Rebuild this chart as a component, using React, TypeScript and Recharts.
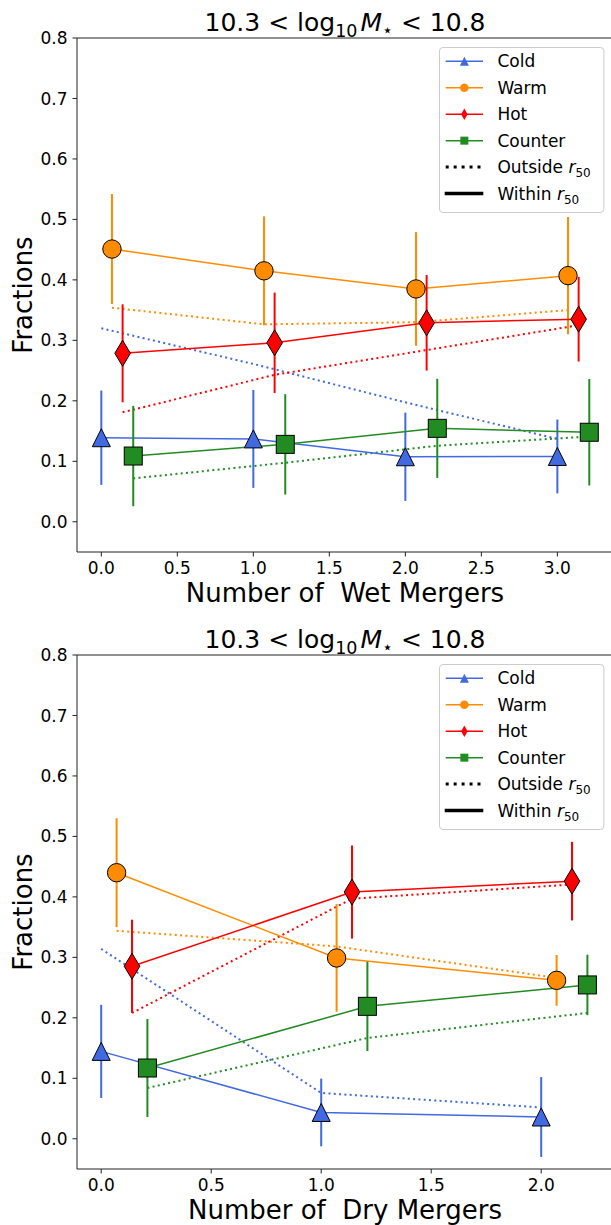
import React from 'react';
import { ComposedChart, Line, XAxis, YAxis, ErrorBar, ReferenceLine, Legend } from 'recharts';

const FONT = '"DejaVu Sans", "Liberation Sans", sans-serif';

// ---- categories / styling keys ----
const seriesNames = ['Cold', 'Warm', 'Hot', 'Counter'];
const seriesColors = ['#4169E1', '#FF8C00', '#FF0000', '#228B22'];
const seriesShapes = ['triangle', 'circle', 'diamond', 'square'];
const seriesOffsets = [0, 0.07, 0.14, 0.21];

// ---- tick values ----
const yTicks = [0, 0.1, 0.2, 0.3, 0.4, 0.5, 0.6, 0.7, 0.8];
const wetTicks = [0, 0.5, 1, 1.5, 2, 2.5, 3];
const dryTicks = [0, 0.5, 1, 1.5, 2];

// ---- top panel: wet mergers ----
const wetX = [0, 1, 2, 3];
const wetColdIn = [0.139, 0.137, 0.1075, 0.108];
const wetColdErr = [0.078, 0.081, 0.073, 0.061];
const wetColdOut = [0.32, 0.261, 0.1975, 0.137];
const wetWarmIn = [0.451, 0.415, 0.385, 0.407];
const wetWarmErr = [0.091, 0.09, 0.094, 0.097];
const wetWarmOut = [0.354, 0.3265, 0.33, 0.35];
const wetHotIn = [0.2786, 0.296, 0.329, 0.335];
const wetHotErr = [0.081, 0.083, 0.079, 0.07];
const wetHotOut = [0.181, 0.243, 0.284, 0.325];
const wetCounterIn = [0.1087, 0.128, 0.1545, 0.148];
const wetCounterErr = [0.083, 0.083, 0.082, 0.088];
const wetCounterOut = [0.0717, 0.0976, 0.1257, 0.141];

// ---- bottom panel: dry mergers ----
const dryX = [0, 1, 2];
const dryColdIn = [0.1445, 0.0435, 0.036];
const dryColdErr = [0.077, 0.056, 0.066];
const dryColdOut = [0.314, 0.0757, 0.0518];
const dryWarmIn = [0.44, 0.299, 0.262];
const dryWarmErr = [0.09, 0.089, 0.042];
const dryWarmOut = [0.344, 0.318, 0.266];
const dryHotIn = [0.2853, 0.408, 0.426];
const dryHotErr = [0.077, 0.077, 0.065];
const dryHotOut = [0.208, 0.397, 0.4205];
const dryCounterIn = [0.117, 0.219, 0.2544];
const dryCounterErr = [0.081, 0.074, 0.05];
const dryCounterOut = [0.084, 0.1667, 0.208];

function markerEl(kind: string, cx: number, cy: number, color: string, big: boolean, key?: string) {
  const edge = big ? '#000' : color;
  const sw = big ? 1 : 0;
  if (kind === 'triangle') {
    const s = big ? 18 : 9;
    return <polygon key={key} points={`${cx},${cy - s / 2} ${cx - s / 2},${cy + s / 2} ${cx + s / 2},${cy + s / 2}`} fill={color} stroke={edge} strokeWidth={sw} />;
  }
  if (kind === 'circle') {
    const r = big ? 9.2 : 4.3;
    return <circle key={key} cx={cx} cy={cy} r={r} fill={color} stroke={edge} strokeWidth={sw} />;
  }
  if (kind === 'diamond') {
    const h = big ? 26 : 11.5;
    const w = big ? 15.6 : 6.5;
    return <polygon key={key} points={`${cx},${cy - h / 2} ${cx + w / 2},${cy} ${cx},${cy + h / 2} ${cx - w / 2},${cy}`} fill={color} stroke={edge} strokeWidth={sw} />;
  }
  const s = big ? 18 : 8;
  return <rect key={key} x={cx - s / 2} y={cy - s / 2} width={s} height={s} fill={color} stroke={edge} strokeWidth={sw} />;
}

function makeDot(kind: string, color: string) {
  return (p: any) => {
    const { cx, cy, index } = p;
    if (cx == null || cy == null) return <g key={`e-${index}`} />;
    return markerEl(kind, cx, cy, color, true, `m-${kind}-${index}`);
  };
}

function LegendContent() {
  const top = 14.3;
  const step = 26.45;
  return (
    <svg width={166} height={167} style={{ display: 'block', overflow: 'visible' }}>
      <rect x={0.5} y={0.5} width={164.4} height={165} rx={3.5} fill="#fff" fillOpacity={0.8} stroke="#cccccc" strokeWidth={1} />
      {seriesNames.map((n, i) => {
        const cy = top + i * step;
        return (
          <g key={n}>
            <line x1={6.7} x2={44} y1={cy} y2={cy} stroke={seriesColors[i]} strokeWidth={1.5} />
            {markerEl(seriesShapes[i], 25.35, cy, seriesColors[i], false)}
            <text x={58.4} y={cy + 6.1} fontSize={17} fontFamily={FONT} fill="#000">{n}</text>
          </g>
        );
      })}
      <line x1={6.7} x2={44} y1={top + 4 * step} y2={top + 4 * step} stroke="#000" strokeWidth={3} strokeDasharray="3 4.95" />
      <text x={58.4} y={top + 4 * step + 6.1} fontSize={17} fontFamily={FONT} fill="#000">
        Outside <tspan fontStyle="italic">r</tspan><tspan fontSize={12} dy={4}>50</tspan>
      </text>
      <line x1={5.7} x2={44.3} y1={top + 5 * step} y2={top + 5 * step} stroke="#000" strokeWidth={3.5} />
      <text x={58.4} y={top + 5 * step + 6.1} fontSize={17} fontFamily={FONT} fill="#000">
        Within <tspan fontStyle="italic">r</tspan><tspan fontSize={12} dy={4}>50</tspan>
      </text>
    </svg>
  );
}

type PanelProps = {
  xs: number[];
  ticks: number[];
  domain: [number, number];
  inVals: number[][];
  inErr: number[][];
  outVals: number[][];
};

function Panel({ xs, ticks, domain, inVals, inErr, outVals }: PanelProps) {
  const tickStyle = { fontSize: 17, fill: '#000', fontFamily: FONT };
  return (
    <ComposedChart width={640} height={620} margin={{ top: 38, right: 27, bottom: 38, left: 17 }}>
      <XAxis
        type="number"
        dataKey="x"
        domain={domain}
        allowDataOverflow
        ticks={ticks}
        interval={0}
        tickFormatter={(v: number) => v.toFixed(1)}
        tickSize={4.5}
        tickMargin={5}
        height={30}
        stroke="#222"
        tick={tickStyle}
      />
      <YAxis
        type="number"
        dataKey="y"
        domain={[-0.05, 0.8]}
        allowDataOverflow
        ticks={yTicks}
        interval={0}
        tickFormatter={(v: number) => v.toFixed(1)}
        tickSize={4.5}
        tickMargin={5}
        width={60}
        stroke="#222"
        tick={tickStyle}
      />
      <ReferenceLine y={0.8} stroke="#222" strokeWidth={1} ifOverflow="visible" />
      {seriesNames.map((n, i) => (
        <Line
          key={`out-${n}`}
          data={xs.map((x, j) => ({ x: x + seriesOffsets[i], y: outVals[i][j] }))}
          dataKey="y"
          stroke={seriesColors[i]}
          strokeWidth={2}
          strokeDasharray="2 3.3"
          dot={false}
          activeDot={false}
          isAnimationActive={false}
          legendType="none"
        />
      ))}
      {seriesNames.map((n, i) => (
        <Line
          key={`in-${n}`}
          data={xs.map((x, j) => ({ x: x + seriesOffsets[i], y: inVals[i][j], err: inErr[i][j] }))}
          dataKey="y"
          stroke={seriesColors[i]}
          strokeWidth={1.5}
          dot={makeDot(seriesShapes[i], seriesColors[i])}
          activeDot={false}
          isAnimationActive={false}
        >
          <ErrorBar dataKey="err" direction="y" width={0} stroke={seriesColors[i]} strokeWidth={2} isAnimationActive={false} />
        </Line>
      ))}
      <Legend
        layout="horizontal"
        verticalAlign="middle"
        align="center"
        content={() => <LegendContent />}
        wrapperStyle={{ left: 439.3, top: 46.7, width: 166, height: 167 }}
      />
    </ComposedChart>
  );
}

function Title({ y }: { y: number }) {
  return (
    <text x={345} y={y} textAnchor="middle" fontSize={25} fontFamily={FONT} fill="#000">
      10.3 &lt; log<tspan fontSize={17.5} dy={6}>10</tspan>
      <tspan fontStyle="italic" dy={-6} dx={3}>M</tspan>
      <tspan fontSize={17.5} dy={5}>⋆</tspan>
      <tspan dy={-5}> &lt; 10.8</tspan>
    </text>
  );
}

export default function App() {
  const chart2Top = 617;
  return (
    <div style={{ position: 'absolute', left: 0, top: 0, width: 611, height: 1225, overflow: 'hidden', background: '#fff' }}>
      <div style={{ position: 'absolute', left: 0, top: 0 }}>
        <Panel
          xs={wetX}
          ticks={wetTicks}
          domain={[-0.16, 3.366]}
          inVals={[wetColdIn, wetWarmIn, wetHotIn, wetCounterIn]}
          inErr={[wetColdErr, wetWarmErr, wetHotErr, wetCounterErr]}
          outVals={[wetColdOut, wetWarmOut, wetHotOut, wetCounterOut]}
        />
      </div>
      <div style={{ position: 'absolute', left: 0, top: chart2Top }}>
        <Panel
          xs={dryX}
          ticks={dryTicks}
          domain={[-0.11, 2.3264]}
          inVals={[dryColdIn, dryWarmIn, dryHotIn, dryCounterIn]}
          inErr={[dryColdErr, dryWarmErr, dryHotErr, dryCounterErr]}
          outVals={[dryColdOut, dryWarmOut, dryHotOut, dryCounterOut]}
        />
      </div>
      <svg width={611} height={1225} style={{ position: 'absolute', left: 0, top: 0, pointerEvents: 'none' }}>
        <Title y={30.8} />
        <Title y={chart2Top + 30.8} />
        <text x={345} y={602} textAnchor="middle" fontSize={26} fontFamily={FONT} fill="#000" style={{ whiteSpace: 'pre' }}>
          {'Number of  Wet Mergers'}
        </text>
        <text x={345} y={chart2Top + 602} textAnchor="middle" fontSize={26} fontFamily={FONT} fill="#000" style={{ whiteSpace: 'pre' }}>
          {'Number of  Dry Mergers'}
        </text>
        <text x={32} y={295} transform="rotate(-90 32 295)" textAnchor="middle" fontSize={26} fontFamily={FONT} fill="#000">Fractions</text>
        <text x={32} y={chart2Top + 295} transform={`rotate(-90 32 ${chart2Top + 295})`} textAnchor="middle" fontSize={26} fontFamily={FONT} fill="#000">Fractions</text>
      </svg>
    </div>
  );
}
